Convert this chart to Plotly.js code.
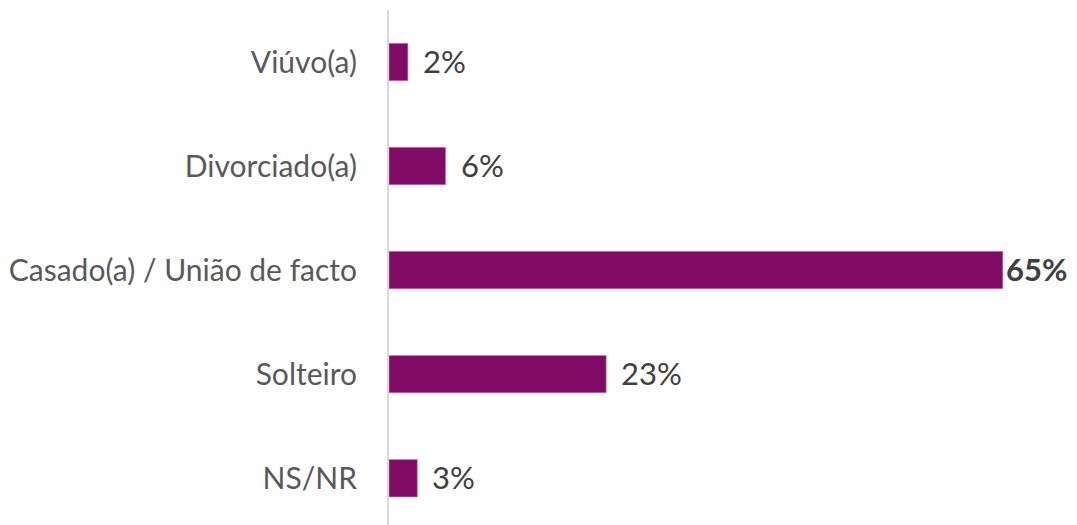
<!DOCTYPE html>
<html>
<head>
<meta charset="utf-8">
<script src="https://cdn.plot.ly/plotly-3.0.1.min.js"></script>
<style>html,body{margin:0;padding:0;background:#fff;}#chart{width:1077px;height:525px;}</style>
</head>
<body>
<div id="chart"></div>
<script>
const categories = ["NS/NR", "Solteiro", "Casado(a) / União de facto", "Divorciado(a)", "Viúvo(a)"];
const values = [3, 23, 65, 6, 2];
const valueLabels = ["3%", "23%", "65%", "6%", "2%"];
const boldLabel = [false, false, true, false, false];

const FONT = "Lato, 'Open Sans', sans-serif";

const trace = {
  type: "bar",
  orientation: "h",
  y: categories,
  x: values,
  marker: {color: "#820C65", line: {color: "#C78AB8", width: 0.6}},
  width: 0.36,
  hoverinfo: "none"
};

const annotations = values.map((v, i) => ({
  x: v, y: categories[i], xref: "x", yref: "y",
  text: boldLabel[i] ? "<b>" + valueLabels[i] + "</b>" : valueLabels[i],
  showarrow: false, xanchor: "left", yanchor: "middle",
  xshift: boldLabel[i] ? 1 : 13, yshift: 1,
  font: {family: FONT, size: 31, color: "#404040"}
}));

const layout = {
  width: 1077, height: 525,
  margin: {l: 389, r: 9, t: 10, b: 0},
  paper_bgcolor: "#ffffff", plot_bgcolor: "#ffffff",
  showlegend: false,
  xaxis: {range: [0, 71.9], showgrid: false, zeroline: false, showticklabels: false, showline: false, ticks: ""},
  yaxis: {
    type: "category",
    categoryorder: "array", categoryarray: categories,
    range: [-0.45, 4.5],
    showgrid: false, zeroline: false,
    showline: true, linecolor: "#D9D9D9", linewidth: 2,
    ticks: "", ticklabelstandoff: 24,
    tickfont: {family: FONT, size: 30, color: "#595959"}
  },
  annotations: annotations
};

Plotly.newPlot("chart", [trace], layout, {displayModeBar: false, staticPlot: true});
</script>
</body>
</html>
